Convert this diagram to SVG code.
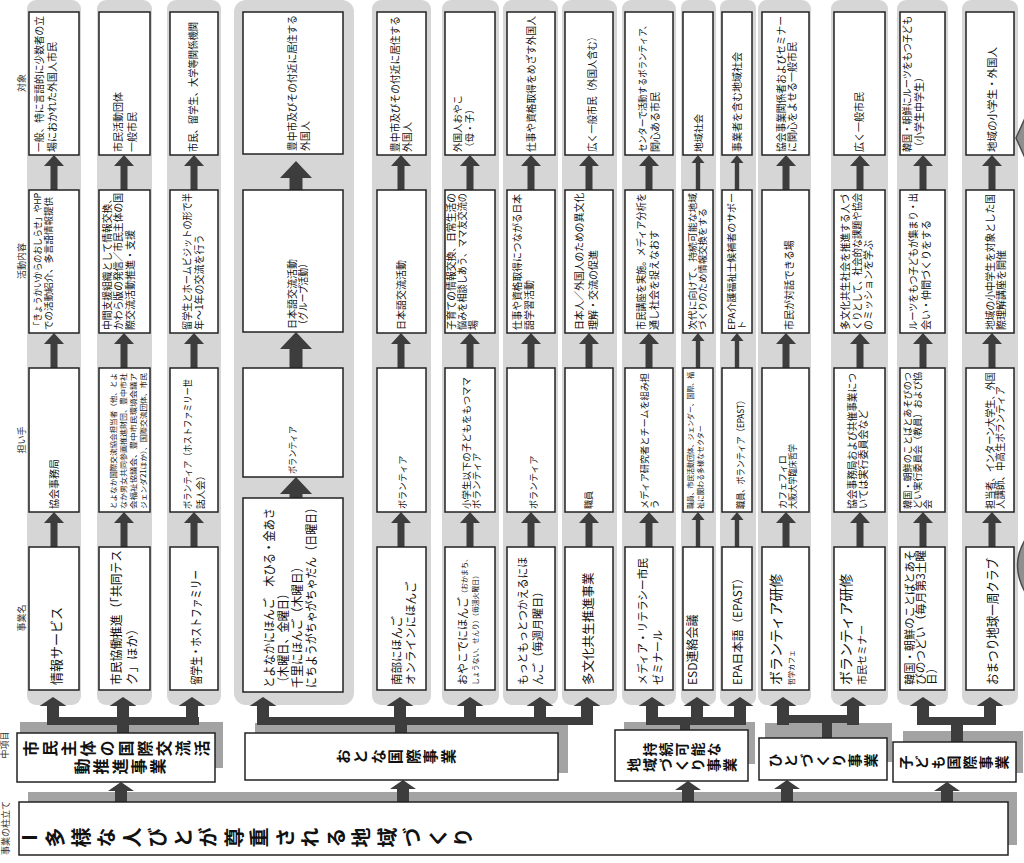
<svg xmlns="http://www.w3.org/2000/svg" xmlns:xlink="http://www.w3.org/1999/xlink" width="1024" height="863" viewBox="0 0 1024 863">
<style>
text{font-family:"Noto Sans CJK JP","Noto Sans CJK SC",sans-serif;fill:#111;}
.strip{fill:#d6d6d6;}
.box{fill:#fff;stroke:#222;stroke-width:1.5;}
.sh{fill:#a3a3a3;}
.ar{fill:#3d3d3d;}
.v{writing-mode:vertical-rl;font-weight:bold;text-anchor:middle;}
.h{font-size:9px;text-anchor:middle;fill:#333;}
.edge{fill:#8f8f8f;stroke:#4a4a4a;stroke-width:1.5;}
</style>
<defs>
<path id="a" d="M-40,-3.5H-11V-10L0,0L-11,10V3.5H-40Z"/>
<path id="at" d="M-40,-2.2H-8V-6.5L0,0L-8,6.5V2.2H-40Z"/>
<path id="ab" d="M-28,-6H-9V-13.5L0,0L-9,13.5V6H-28Z"/>
<path id="ar" d="M-24,-6H-9V-13L0,0L-9,13V6H-24Z"/>
<path id="aB" d="M-45,-6.5H-17V-16L0,0L-17,16V6.5H-45Z"/>
</defs>
<rect width="1024" height="863" fill="#fff"/>
<g transform="translate(0,863) rotate(-90)">
<g id="headers">
<text class="h" x="780" y="25">対象</text>
<text class="h" x="602" y="25">活動内容</text>
<text class="h" x="423" y="25">担い手</text>
<text class="h" x="245" y="25">事業名</text>
<text class="h" x="118" y="8" font-size="8">中項目</text>
<text class="h" x="35" y="8.5">事業の柱立て</text>
</g>
<g id="strips">
<rect class="strip" x="158" y="27" width="705" height="54" rx="9"/>
<rect class="strip" x="158" y="97" width="705" height="55" rx="9"/>
<rect class="strip" x="158" y="167" width="705" height="54" rx="9"/>
<rect class="strip" x="158" y="234" width="705" height="120" rx="12"/>
<rect class="strip" x="158" y="372" width="705" height="59" rx="9"/>
<rect class="strip" x="158" y="442" width="705" height="57" rx="9"/>
<rect class="strip" x="158" y="503" width="705" height="55" rx="9"/>
<rect class="strip" x="158" y="562" width="705" height="55" rx="9"/>
<rect class="strip" x="158" y="622" width="705" height="54" rx="9"/>
<rect class="strip" x="158" y="681" width="705" height="35" rx="8"/>
<rect class="strip" x="158" y="720" width="705" height="36" rx="8"/>
<rect class="strip" x="158" y="758" width="705" height="53" rx="9"/>
<rect class="strip" x="158" y="831" width="705" height="57" rx="9"/>
<rect class="strip" x="158" y="897" width="705" height="51" rx="9"/>
<rect class="strip" x="158" y="962" width="705" height="56" rx="9"/>
</g>
<g id="shadows">
<rect class="sh" x="18" y="28" width="53" height="989"/>
<rect class="sh" x="95" y="20" width="46" height="203"/>
<rect class="sh" x="90" y="255" width="50" height="313"/>
<rect class="sh" x="99" y="624" width="42" height="131"/>
<rect class="sh" x="101" y="765" width="39" height="127"/>
<rect class="sh" x="90" y="903" width="42" height="120"/>
</g>
<g id="connectors" class="ar">
<rect x="138" y="47" width="8" height="152"/>
<rect x="138" y="257" width="8" height="336"/>
<rect x="138" y="646" width="8" height="100"/>
<rect x="140" y="777" width="8" height="82"/>
<rect x="138" y="917" width="8" height="79"/>
<rect x="124" y="117" width="16" height="12"/>
<rect x="124" y="395" width="16" height="12"/>
<rect x="124" y="680" width="16" height="10"/>
<rect x="118" y="822" width="24" height="10"/>
<rect x="115" y="951" width="25" height="12"/>
<use xlink:href="#ar" x="81" y="121"/>
<use xlink:href="#ar" x="83" y="403"/>
<use xlink:href="#ar" x="82" y="688"/>
<use xlink:href="#ar" x="83" y="787"/>
<use xlink:href="#ar" x="81" y="947"/>
<use xlink:href="#ab" x="166" y="53"/>
<use xlink:href="#ab" x="166" y="123"/>
<use xlink:href="#ab" x="166" y="192"/>
<use xlink:href="#ab" x="166" y="263"/>
<use xlink:href="#ab" x="166" y="400"/>
<use xlink:href="#ab" x="166" y="470"/>
<use xlink:href="#ab" x="166" y="540"/>
<use xlink:href="#ab" x="166" y="587"/>
<use xlink:href="#ab" x="166" y="652"/>
<use xlink:href="#ab" x="166" y="697"/>
<use xlink:href="#ab" x="166" y="740"/>
<use xlink:href="#ab" x="166" y="783"/>
<use xlink:href="#ab" x="166" y="853"/>
<use xlink:href="#ab" x="166" y="923"/>
<use xlink:href="#ab" x="166" y="990"/>
<use xlink:href="#a" x="351" y="54"/><use xlink:href="#a" x="530" y="54"/><use xlink:href="#a" x="708" y="54"/>
<use xlink:href="#a" x="351" y="124"/><use xlink:href="#a" x="530" y="124"/><use xlink:href="#a" x="708" y="124"/>
<use xlink:href="#a" x="351" y="194"/><use xlink:href="#a" x="530" y="194"/><use xlink:href="#a" x="708" y="194"/>
<use xlink:href="#aB" x="386" y="296"/><use xlink:href="#aB" x="531" y="296"/><use xlink:href="#aB" x="702" y="296"/>
<use xlink:href="#a" x="351" y="401"/><use xlink:href="#a" x="530" y="401"/><use xlink:href="#a" x="708" y="401"/>
<use xlink:href="#a" x="351" y="470"/><use xlink:href="#a" x="530" y="470"/><use xlink:href="#a" x="708" y="470"/>
<use xlink:href="#a" x="351" y="531"/><use xlink:href="#a" x="530" y="531"/><use xlink:href="#a" x="708" y="531"/>
<use xlink:href="#a" x="351" y="589"/><use xlink:href="#a" x="530" y="589"/><use xlink:href="#a" x="708" y="589"/>
<use xlink:href="#a" x="351" y="649"/><use xlink:href="#a" x="530" y="649"/><use xlink:href="#a" x="708" y="649"/>
<use xlink:href="#at" x="351" y="698"/><use xlink:href="#at" x="530" y="698"/><use xlink:href="#at" x="708" y="698"/>
<use xlink:href="#at" x="351" y="737"/><use xlink:href="#at" x="530" y="737"/><use xlink:href="#at" x="708" y="737"/>
<use xlink:href="#a" x="351" y="786"/><use xlink:href="#a" x="530" y="786"/><use xlink:href="#a" x="708" y="786"/>
<use xlink:href="#a" x="351" y="860"/><use xlink:href="#a" x="530" y="860"/><use xlink:href="#a" x="708" y="860"/>
<use xlink:href="#a" x="351" y="923"/><use xlink:href="#a" x="530" y="923"/><use xlink:href="#a" x="708" y="923"/>
<use xlink:href="#a" x="351" y="992"/><use xlink:href="#a" x="530" y="992"/><use xlink:href="#a" x="708" y="992"/>
</g>
<g id="root">
<rect class="box" x="8" y="19" width="53" height="989"/>
<text class="v" x="25.5" y="20" font-size="20" letter-spacing="5.5" style="text-anchor:start">Ⅰ多様な人びとが尊重される地域づくり</text>
</g>
<g id="mid1">
<rect class="box" x="81" y="17" width="49" height="198"/>
<text class="v" x="114.5" y="118" font-size="16" letter-spacing="3">市民主体の国際交流活</text>
<text class="v" x="96.5" y="121" font-size="16" letter-spacing="3">動推進事業</text>
</g>
<g id="mid2">
<rect class="box" x="83" y="245" width="47" height="313"/>
<text class="v" x="106.5" y="397" font-size="15" letter-spacing="2.5">おとな国際事業</text>
</g>
<g id="mid3">
<rect class="box" x="82" y="615" width="51" height="133"/>
<text class="v" x="113.5" y="683" font-size="14" letter-spacing="2">持続可能な</text>
<text class="v" x="98" y="683" font-size="14" letter-spacing="2">地域づくり事業</text>
</g>
<g id="mid4">
<rect class="box" x="83" y="759" width="42" height="128"/>
<text class="v" x="102.5" y="824" font-size="14" letter-spacing="2">ひとづくり事業</text>
</g>
<g id="mid5">
<rect class="box" x="81" y="893" width="40" height="123"/>
<text class="v" x="100.5" y="955" font-size="14" letter-spacing="2">子ども国際事業</text>
</g>
<!-- column 1 -->
<g id="c1-name"><rect class="box" x="173" y="29" width="143" height="50"/><text x="178" y="61" font-size="13">情報サービス</text></g>
<g id="c1-actor"><rect class="box" x="351" y="29" width="144" height="50"/><text x="354" y="58" font-size="10">協会事務局</text></g>
<g id="c1-act"><rect class="box" x="530" y="29" width="143" height="50"/><text x="533" y="41" font-size="9.5" textLength="137" lengthAdjust="spacingAndGlyphs">「きょうかいからのおしらせ」やHP</text><text x="533" y="52" font-size="9.5" textLength="133" lengthAdjust="spacingAndGlyphs">での活動紹介、多言語情報提供</text></g>
<g id="c1-target"><rect class="box" x="708" y="29" width="143" height="50"/><text x="711" y="43" font-size="10" textLength="136" lengthAdjust="spacingAndGlyphs">一般、特に言語的に少数者の立</text><text x="711" y="56" font-size="10">場におかれた外国人市民</text></g>
<!-- column 2 -->
<g id="c2-name"><rect class="box" x="173" y="99" width="143" height="51"/><text x="178" y="121" font-size="12.5" textLength="135" lengthAdjust="spacingAndGlyphs">市民協働推進（「共同テス</text><text x="178" y="137" font-size="12.5">ク」ほか）</text></g>
<g id="c2-actor"><rect class="box" x="351" y="99" width="144" height="51"/>
<text x="354" y="116" font-size="7.2" textLength="136" lengthAdjust="spacingAndGlyphs">とよなか国際交流協会担当者（他、とよ</text>
<text x="354" y="126" font-size="7.2" textLength="136" lengthAdjust="spacingAndGlyphs">なか男女共同参画推進財団、豊中市社</text>
<text x="354" y="136" font-size="7.2" textLength="136" lengthAdjust="spacingAndGlyphs">会福祉協議会、豊中市民環境会議ア</text>
<text x="354" y="146" font-size="7.2" textLength="136" lengthAdjust="spacingAndGlyphs">ジェンダ21ほか）、国際交流団体、市民</text></g>
<g id="c2-act"><rect class="box" x="530" y="99" width="143" height="51"/><text x="533" y="111" font-size="10" textLength="136" lengthAdjust="spacingAndGlyphs">中間支援組織として情報交換、</text><text x="533" y="122" font-size="10" textLength="137" lengthAdjust="spacingAndGlyphs">かわら版の発信／市民主体の国</text><text x="533" y="134" font-size="10">際交流活動推進・支援</text></g>
<g id="c2-target"><rect class="box" x="708" y="99" width="143" height="51"/><text x="711" y="122" font-size="10">市民活動団体</text><text x="711" y="136" font-size="10">一般市民</text></g>
<!-- column 3 -->
<g id="c3-name"><rect class="box" x="173" y="170" width="143" height="48"/><text x="178" y="201" font-size="12.5" textLength="115" lengthAdjust="spacingAndGlyphs">留学生・ホストファミリー</text></g>
<g id="c3-actor"><rect class="box" x="351" y="170" width="144" height="48"/><text x="354" y="191" font-size="9.5" textLength="130" lengthAdjust="spacingAndGlyphs">ボランティア（ホストファミリー世</text><text x="354" y="204" font-size="9.5">話人会）</text></g>
<g id="c3-act"><rect class="box" x="530" y="170" width="143" height="48"/><text x="533" y="191" font-size="10" textLength="137" lengthAdjust="spacingAndGlyphs">留学生とホームビジットの形で半</text><text x="533" y="203" font-size="10">年～1年の交流を行う</text></g>
<g id="c3-target"><rect class="box" x="708" y="170" width="143" height="48"/><text x="711" y="197" font-size="10" textLength="130" lengthAdjust="spacingAndGlyphs">市民、留学生、大学等関係機関</text></g>
<!-- column 4 -->
<g id="c4-name"><rect class="box" x="171" y="243" width="194" height="100"/>
<text x="175" y="274" font-size="12.5" textLength="180" lengthAdjust="spacingAndGlyphs">とよなかにほんご　木ひる・金あさ</text>
<text x="175" y="288" font-size="12.5" textLength="100" lengthAdjust="spacingAndGlyphs">（木曜日、金曜日）</text>
<text x="175" y="302" font-size="12.5" textLength="127" lengthAdjust="spacingAndGlyphs">千里にほんご（木曜日）</text>
<text x="175" y="316" font-size="12.5" textLength="186" lengthAdjust="spacingAndGlyphs">にちようがちゃがちゃだん（日曜日）</text></g>
<g id="c4-actor"><rect class="box" x="386" y="243" width="109" height="100"/><text x="389" y="296" font-size="9" textLength="48" lengthAdjust="spacingAndGlyphs">ボランティア</text></g>
<g id="c4-act"><rect class="box" x="531" y="243" width="142" height="100"/><text x="534" y="296" font-size="10">日本語交流活動</text><text x="534" y="307" font-size="10" textLength="70" lengthAdjust="spacingAndGlyphs">（グループ活動）</text></g>
<g id="c4-target"><rect class="box" x="709" y="243" width="142" height="100"/><text x="712" y="296" font-size="10" textLength="136" lengthAdjust="spacingAndGlyphs">豊中市及びその付近に居住する</text><text x="712" y="309" font-size="10">外国人</text></g>
<!-- column 5 -->
<g id="c5-name"><rect class="box" x="173" y="377" width="143" height="49"/><text x="178" y="401" font-size="11.5">南部にほんご</text><text x="178" y="415" font-size="11.5">オンラインにほんご</text></g>
<g id="c5-actor"><rect class="box" x="351" y="377" width="144" height="49"/><text x="354" y="406" font-size="9">ボランティア</text></g>
<g id="c5-act"><rect class="box" x="530" y="377" width="143" height="49"/><text x="533" y="405" font-size="10">日本語交流活動</text></g>
<g id="c5-target"><rect class="box" x="708" y="377" width="143" height="49"/><text x="711" y="399" font-size="10" textLength="136" lengthAdjust="spacingAndGlyphs">豊中市及びその付近に居住する</text><text x="711" y="411" font-size="10">外国人</text></g>
<!-- column 6 -->
<g id="c6-name"><rect class="box" x="173" y="445" width="143" height="50"/><text x="178" y="467" font-size="11">おやこでにほんご<tspan font-size="7">（おかまち、</tspan></text><text x="178" y="478" font-size="6.8" textLength="113" lengthAdjust="spacingAndGlyphs">しょうない、せんり）（毎週火曜日）</text></g>
<g id="c6-actor"><rect class="box" x="351" y="445" width="144" height="50"/><text x="354" y="470" font-size="9.5" textLength="132" lengthAdjust="spacingAndGlyphs">小学生以下の子どもをもつママ</text><text x="354" y="480" font-size="9.5">ボランティア</text></g>
<g id="c6-act"><rect class="box" x="530" y="445" width="143" height="50"/><text x="533" y="455" font-size="10" textLength="137" lengthAdjust="spacingAndGlyphs">子育ての情報交換、日常生活の</text><text x="533" y="466" font-size="10" textLength="137" lengthAdjust="spacingAndGlyphs">悩みを相談しあう、ママ友交流の</text><text x="533" y="477" font-size="10">場</text></g>
<g id="c6-target"><rect class="box" x="708" y="445" width="143" height="50"/><text x="711" y="461" font-size="9.5">外国人おやこ</text><text x="711" y="473" font-size="9.5">（母・子）</text></g>
<!-- column 7 -->
<g id="c7-name"><rect class="box" x="173" y="507" width="143" height="48"/><text x="178" y="527" font-size="11" textLength="128" lengthAdjust="spacingAndGlyphs">もっともっとつかえるにほ</text><text x="178" y="542" font-size="11">んご（毎週月曜日）</text></g>
<g id="c7-actor"><rect class="box" x="351" y="507" width="144" height="48"/><text x="354" y="537" font-size="9">ボランティア</text></g>
<g id="c7-act"><rect class="box" x="530" y="507" width="143" height="48"/><text x="533" y="521" font-size="10" textLength="136" lengthAdjust="spacingAndGlyphs">仕事や資格取得につながる日本</text><text x="533" y="533" font-size="10">語学習活動</text></g>
<g id="c7-target"><rect class="box" x="708" y="507" width="143" height="48"/><text x="711" y="535" font-size="10" textLength="136" lengthAdjust="spacingAndGlyphs">仕事や資格取得をめざす外国人</text></g>
<!-- column 8 -->
<g id="c8-name"><rect class="box" x="173" y="565" width="143" height="48"/><text x="178" y="593" font-size="12.5">多文化共生推進事業</text></g>
<g id="c8-actor"><rect class="box" x="351" y="565" width="144" height="48"/><text x="354" y="592" font-size="9">職員</text></g>
<g id="c8-act"><rect class="box" x="530" y="565" width="143" height="48"/><text x="533" y="583" font-size="10" textLength="137" lengthAdjust="spacingAndGlyphs">日本人／外国人のための異文化</text><text x="533" y="597" font-size="10">理解・交流の促進</text></g>
<g id="c8-target"><rect class="box" x="708" y="565" width="143" height="48"/><text x="711" y="596" font-size="10" textLength="120" lengthAdjust="spacingAndGlyphs">広く一般市民（外国人含む）</text></g>
<!-- column 9 -->
<g id="c9-name"><rect class="box" x="173" y="625" width="143" height="48"/><text x="178" y="647" font-size="11" textLength="127" lengthAdjust="spacingAndGlyphs">メディア・リテラシー市民</text><text x="178" y="662" font-size="11">ゼミナール</text></g>
<g id="c9-actor"><rect class="box" x="351" y="625" width="144" height="48"/><text x="354" y="648" font-size="9.5" textLength="136" lengthAdjust="spacingAndGlyphs">メディア研究者とチームを組み担</text><text x="354" y="658" font-size="9.5">う</text></g>
<g id="c9-act"><rect class="box" x="530" y="625" width="143" height="48"/><text x="533" y="645" font-size="10" textLength="137" lengthAdjust="spacingAndGlyphs">市民講座を実施。メディア分析を</text><text x="533" y="658" font-size="10">通し社会を捉えなおす</text></g>
<g id="c9-target"><rect class="box" x="708" y="625" width="143" height="48"/><text x="711" y="646" font-size="9.5" textLength="131" lengthAdjust="spacingAndGlyphs">センターで活動するボランティア、</text><text x="711" y="659" font-size="10">関心ある市民</text></g>
<!-- column 10 -->
<g id="c10-name"><rect class="box" x="173" y="683" width="143" height="30"/><text x="178" y="697" font-size="12">ESD連絡会議</text></g>
<g id="c10-actor"><rect class="box" x="351" y="683" width="144" height="30"/><text x="354" y="693" font-size="7" textLength="137" lengthAdjust="spacingAndGlyphs">職員、市民活動団体、ジェンダー、国際、福</text><text x="354" y="703" font-size="7">祉に関わる多様なセクター</text></g>
<g id="c10-act"><rect class="box" x="530" y="683" width="143" height="30"/><text x="533" y="696" font-size="9" textLength="137" lengthAdjust="spacingAndGlyphs">次代に向けて、持続可能な地域</text><text x="533" y="706" font-size="9" textLength="122" lengthAdjust="spacingAndGlyphs">づくりのため情報交換をする</text></g>
<g id="c10-target"><rect class="box" x="708" y="683" width="143" height="30"/><text x="711" y="702" font-size="9.5">地域社会</text></g>
<!-- column 11 -->
<g id="c11-name"><rect class="box" x="173" y="722" width="143" height="30"/><text x="178" y="742" font-size="11.5" textLength="113" lengthAdjust="spacingAndGlyphs">EPA日本語（EPAST）</text></g>
<g id="c11-actor"><rect class="box" x="351" y="722" width="144" height="30"/><text x="354" y="744" font-size="9.5" textLength="113" lengthAdjust="spacingAndGlyphs">職員、ボランティア（EPAST）</text></g>
<g id="c11-act"><rect class="box" x="530" y="722" width="143" height="30"/><text x="533" y="735" font-size="9.5" textLength="137" lengthAdjust="spacingAndGlyphs">EPA介護福祉士候補者のサポー</text><text x="533" y="745" font-size="9.5">ト</text></g>
<g id="c11-target"><rect class="box" x="708" y="722" width="143" height="30"/><text x="711" y="741" font-size="10">事業者を含む地域社会</text></g>
<!-- column 12 -->
<g id="c12-name"><rect class="box" x="173" y="762" width="143" height="47"/><text x="178" y="781" font-size="14">ボランティア研修</text><text x="178" y="794" font-size="7">哲学カフェ</text></g>
<g id="c12-actor"><rect class="box" x="351" y="762" width="144" height="47"/><text x="354" y="786" font-size="9">カフェフィロ</text><text x="354" y="796" font-size="9" textLength="65" lengthAdjust="spacingAndGlyphs">大阪大学臨床哲学</text></g>
<g id="c12-act"><rect class="box" x="530" y="762" width="143" height="47"/><text x="533" y="793" font-size="10">市民が対話できる場</text></g>
<g id="c12-target"><rect class="box" x="708" y="762" width="143" height="47"/><text x="711" y="785" font-size="10" textLength="136" lengthAdjust="spacingAndGlyphs">協会事業関係者およびセミナー</text><text x="711" y="796" font-size="10">に関心をよせる一般市民</text></g>
<!-- column 13 -->
<g id="c13-name"><rect class="box" x="173" y="834" width="143" height="51"/><text x="178" y="851" font-size="14">ボランティア研修</text><text x="178" y="866" font-size="10">市民セミナー</text></g>
<g id="c13-actor"><rect class="box" x="351" y="834" width="144" height="51"/><text x="354" y="856" font-size="10" textLength="136" lengthAdjust="spacingAndGlyphs">協会事務局および共催事業につ</text><text x="354" y="867" font-size="10">いては実行委員会など</text></g>
<g id="c13-act"><rect class="box" x="530" y="834" width="143" height="51"/><text x="533" y="849" font-size="10" textLength="136" lengthAdjust="spacingAndGlyphs">多文化共生社会を推進する人づ</text><text x="533" y="861" font-size="10" textLength="137" lengthAdjust="spacingAndGlyphs">くりとして、社会的な課題や協会</text><text x="533" y="872" font-size="10">のミッションを学ぶ</text></g>
<g id="c13-target"><rect class="box" x="708" y="834" width="143" height="51"/><text x="711" y="863" font-size="10">広く一般市民</text></g>
<!-- column 14 -->
<g id="c14-name"><rect class="box" x="173" y="900" width="143" height="45"/><text x="178" y="914" font-size="11.5" textLength="135" lengthAdjust="spacingAndGlyphs">韓国・朝鮮のことばとあそ</text><text x="178" y="925" font-size="11.5" textLength="135" lengthAdjust="spacingAndGlyphs">びのつどい（毎月第3土曜</text><text x="178" y="936" font-size="11.5">日）</text></g>
<g id="c14-actor"><rect class="box" x="351" y="900" width="144" height="45"/><text x="354" y="911" font-size="9.5" textLength="137" lengthAdjust="spacingAndGlyphs">韓国・朝鮮のことばとあそびのつ</text><text x="354" y="921" font-size="9.5" textLength="137" lengthAdjust="spacingAndGlyphs">どい実行委員会（教員）および協</text><text x="354" y="931" font-size="9.5">会</text></g>
<g id="c14-act"><rect class="box" x="530" y="900" width="143" height="45"/><text x="533" y="917" font-size="10" textLength="137" lengthAdjust="spacingAndGlyphs">ルーツをもつ子どもが集まり・出</text><text x="533" y="930" font-size="10">会い・仲間づくりをする</text></g>
<g id="c14-target"><rect class="box" x="708" y="900" width="143" height="45"/><text x="711" y="911" font-size="10" textLength="136" lengthAdjust="spacingAndGlyphs">韓国・朝鮮にルーツをもつ子ども</text><text x="711" y="923" font-size="10">（小学生中学生）</text></g>
<!-- column 15 -->
<g id="c15-name"><rect class="box" x="173" y="966" width="143" height="48"/><text x="178" y="997" font-size="13" textLength="127" lengthAdjust="spacingAndGlyphs">おまつり地球一周クラブ</text></g>
<g id="c15-actor"><rect class="box" x="351" y="966" width="144" height="48"/><text x="354" y="994" font-size="10" textLength="137" lengthAdjust="spacingAndGlyphs">担当者、インターン大学生、外国</text><text x="354" y="1004" font-size="10" textLength="123" lengthAdjust="spacingAndGlyphs">人講師、中高生ボランティア</text></g>
<g id="c15-act"><rect class="box" x="530" y="966" width="143" height="48"/><text x="533" y="994" font-size="10" textLength="136" lengthAdjust="spacingAndGlyphs">地域の小中学生を対象とした国</text><text x="533" y="1005" font-size="10">際理解講座を開催</text></g>
<g id="c15-target"><rect class="box" x="708" y="966" width="143" height="48"/><text x="711" y="996" font-size="10.5">地域の小学生・外国人</text></g>
</g>
<g id="edge-shapes">
<path class="edge" d="M1025,118 L1016,138 L1025,158 Z"/>
<path class="edge" d="M1025,540 Q1010,565 1025,592 Z"/>
</g>
</svg>
